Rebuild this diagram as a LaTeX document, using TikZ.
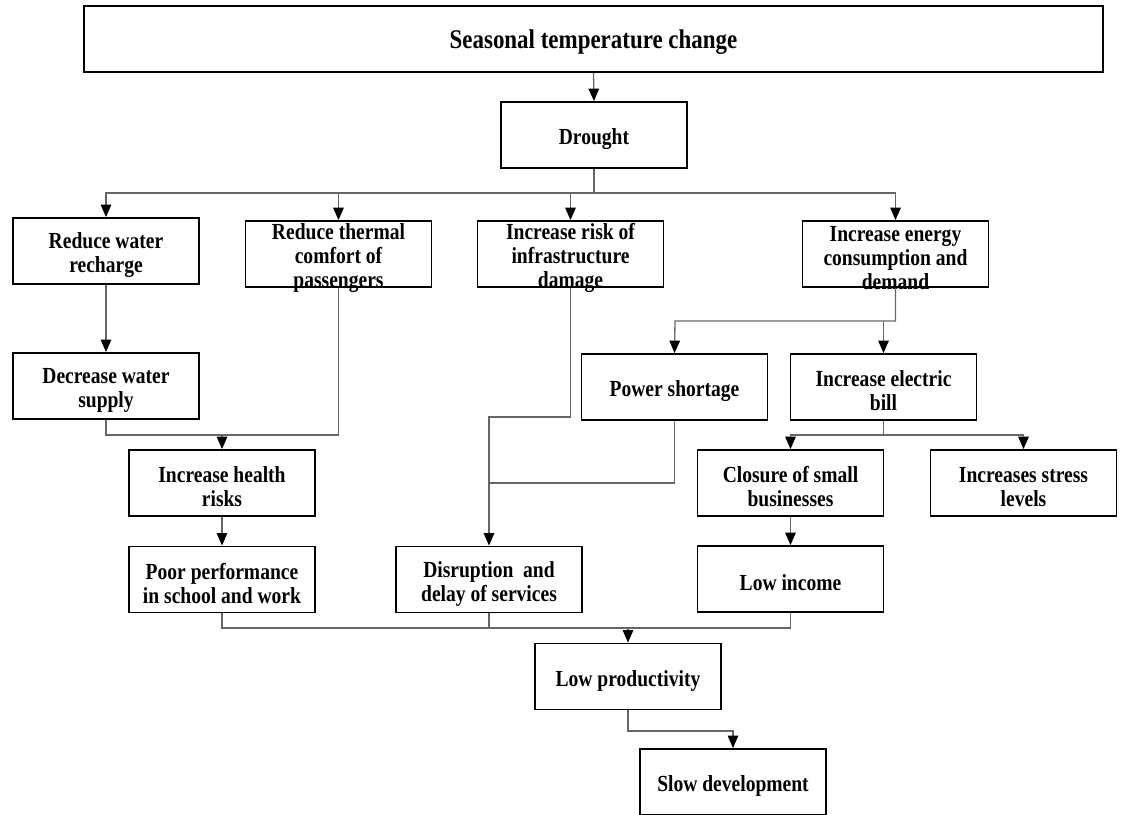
\documentclass[tikz,border=0pt]{standalone}
\usepackage{fontspec}
\setmainfont{Liberation Serif}[FakeStretch=0.85]
\usetikzlibrary{arrows.meta}
\begin{document}
\begin{tikzpicture}[x=1pt,y=-1pt,
  box/.style={draw=black,line width=1.8pt,minimum width=186pt,minimum height=66pt,inner sep=0pt},
  txt/.style={align=center,inner sep=0pt,yshift=-4pt,font=\bfseries\fontsize{23}{24}\selectfont},
  conn/.style={draw=black!60,line width=1.3pt},
  arr/.style={conn,-{Triangle[width=10.5pt,length=12.5pt,color=black]}}]
\useasboundingbox (0,0) rectangle (1135,814);
% boxes
\node[box,minimum width=1019pt] (top) at (593.5,39) {};
\node[txt,yshift=1pt,font=\bfseries\fontsize{27}{28}\selectfont] at (top.center) {Seasonal temperature change};
\node[box] (dr) at (594,135) {};
\node[txt] at (dr.center) {Drought};
\node[box] (rw) at (106,251) {};
\node[txt] at (rw.center) {Reduce water\\recharge};
\node[box] (rt) at (338.5,254) {};
\node[txt] at (rt.center) {Reduce thermal\\comfort of\\passengers};
\node[box] (ir) at (570.5,254) {};
\node[txt] at (ir.center) {Increase risk of\\infrastructure\\damage};
\node[box] (ie) at (895.5,254) {};
\node[txt] at (ie.center) {Increase energy\\consumption and\\demand};
\node[box] (dw) at (106,386) {};
\node[txt] at (dw.center) {Decrease water\\supply};
\node[box] (ps) at (674.5,387) {};
\node[txt] at (ps.center) {Power shortage};
\node[box] (eb) at (883.5,387) {};
\node[txt] at (eb.center) {Increase electric\\bill};
\node[box] (hr) at (222,483) {};
\node[txt] at (hr.center) {Increase health\\risks};
\node[box] (cs) at (790.5,483) {};
\node[txt] at (cs.center) {Closure of small\\businesses};
\node[box] (sl) at (1023.5,483) {};
\node[txt] at (sl.center) {Increases stress\\levels};
\node[box] (pp) at (222,579.5) {};
\node[txt] at (pp.center) {Poor performance\\in school and work};
\node[box] (ds) at (489,579.5) {};
\node[txt] at (ds.center) {Disruption~ and\\delay of services};
\node[box] (li) at (790.5,579) {};
\node[txt] at (li.center) {Low income};
\node[box] (lp) at (628,676.5) {};
\node[txt] at (lp.center) {Low productivity};
\node[box] (sd) at (733,782) {};
\node[txt] at (sd.center) {Slow development};
% junction coordinates
\coordinate (b1) at (594,193);
\coordinate (j1) at (222,435);
\coordinate (k1) at (489,417);
\coordinate (k2) at (489,483);
\coordinate (k3) at (675,321);
\coordinate (k5) at (883.5,435);
\coordinate (k6) at (628,628);
% connectors
\draw[arr] (top.south) -- (dr.north);
\draw[conn] (dr.south) -- (b1);
\draw[arr] (b1) -| (rw.north);
\draw[arr] (b1) -| (rt.north);
\draw[arr] (b1) -| (ir.north);
\draw[arr] (b1) -| (ie.north);
\draw[arr] (rw.south) -- (dw.north);
\draw[conn] (dw.south) |- (j1) -| (rt.south);
\draw[arr] (j1) -- (hr.north);
\draw[arr] (hr.south) -- (pp.north);
\draw[arr] (ir.south) |- (k1) -- (ds.north);
\draw[conn] (ps.south) |- (k2);
\draw[arr] (ie.south) |- (k3) -- (ps.north);
\draw[arr] (eb.north |- k3) -- (eb.north);
\draw[conn] (eb.south) -- (k5);
\draw[arr] (k5) -| (cs.north);
\draw[arr] (k5) -| (sl.north);
\draw[arr] (cs.south) -- (li.north);
\draw[conn] (pp.south) |- (k6) -| (li.south);
\draw[conn] (ds.south) -- (ds.south |- k6);
\draw[arr] (k6) -- (lp.north);
\draw[arr] (lp.south) -- ++(0,20.5) -| (sd.north);
\end{tikzpicture}
\end{document}
